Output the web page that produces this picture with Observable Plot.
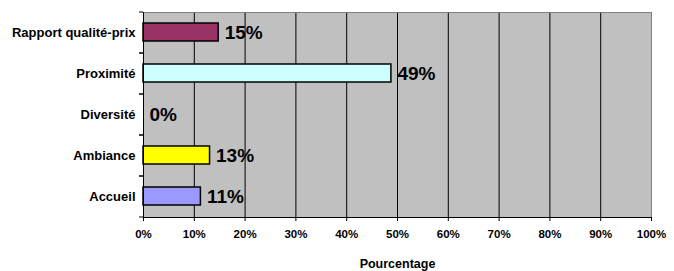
<!DOCTYPE html>
<html><head><meta charset="utf-8">
<script src="https://cdn.jsdelivr.net/npm/d3@7"></script>
<script src="https://cdn.jsdelivr.net/npm/@observablehq/plot@0.6"></script>
<style>body{margin:0;background:#fff}</style>
</head><body><div id="chart"></div>
<script>
const categories = ["Rapport qualité-prix", "Proximité", "Diversité", "Ambiance", "Accueil"];
const values = [14.8, 48.8, 0, 13.1, 11.3];
const valueLabels = ["15%", "49%", "0%", "13%", "11%"];
const palette = ["#993366", "#CCFFFF", "none", "#FFFF00", "#9999FF"];
const xTicks = [0, 10, 20, 30, 40, 50, 60, 70, 80, 90, 100];
const xTitle = "Pourcentage";

const rows = categories.map((c, i) => ({category: c, value: values[i], label: valueLabels[i], color: palette[i]}));
const font = "'Liberation Sans', Arial, sans-serif";

const chart = Plot.plot({
  width: 674, height: 271,
  marginLeft: 143, marginRight: 23, marginTop: 12, marginBottom: 54,
  style: {fontFamily: font, fontWeight: "bold", fontSize: "11px", background: "white", color: "black", overflow: "visible"},
  x: {domain: [0, 100]},
  y: {domain: categories, paddingInner: 0.56, paddingOuter: 0.28},
  color: {type: "identity"},
  marks: [
    Plot.frame({fill: "#c0c0c0"}),
    Plot.gridX(xTicks, {stroke: "black", strokeOpacity: 1}),
    Plot.frame({anchor: "top", stroke: "#808080"}),
    Plot.frame({anchor: "right", stroke: "#808080"}),
    Plot.barX(rows, {x: "value", y: "category", fill: "color", stroke: "black", strokeWidth: 1.5}),
    Plot.frame({anchor: "left", stroke: "black"}),
    Plot.frame({anchor: "bottom", stroke: "black"}),
    Plot.axisX(xTicks, {tickSize: 4, tickPadding: 8, tickFormat: d => d + "%", label: null, fontSize: 11.5, fontWeight: "bold"}),
    Plot.axisX([], {tickSize: 0, label: xTitle, labelAnchor: "center", labelOffset: 50, labelArrow: "none", fontSize: 12.5, fontWeight: "bold"}),
    Plot.axisY({tickSize: 0, tickPadding: 8, label: null, fontSize: 13, fontWeight: "bold"}),
    Plot.axisY({tickSize: 4, fill: "none", dy: 20.5, label: null}),
    Plot.axisY({tickSize: 4, fill: "none", dy: -20.5, label: null}),
    Plot.text(rows, {x: "value", y: "category", text: "label", dx: 6, textAnchor: "start", fontSize: 19, fontWeight: "bold"})
  ]
});
document.getElementById("chart").append(chart);
</script>
</body></html>
